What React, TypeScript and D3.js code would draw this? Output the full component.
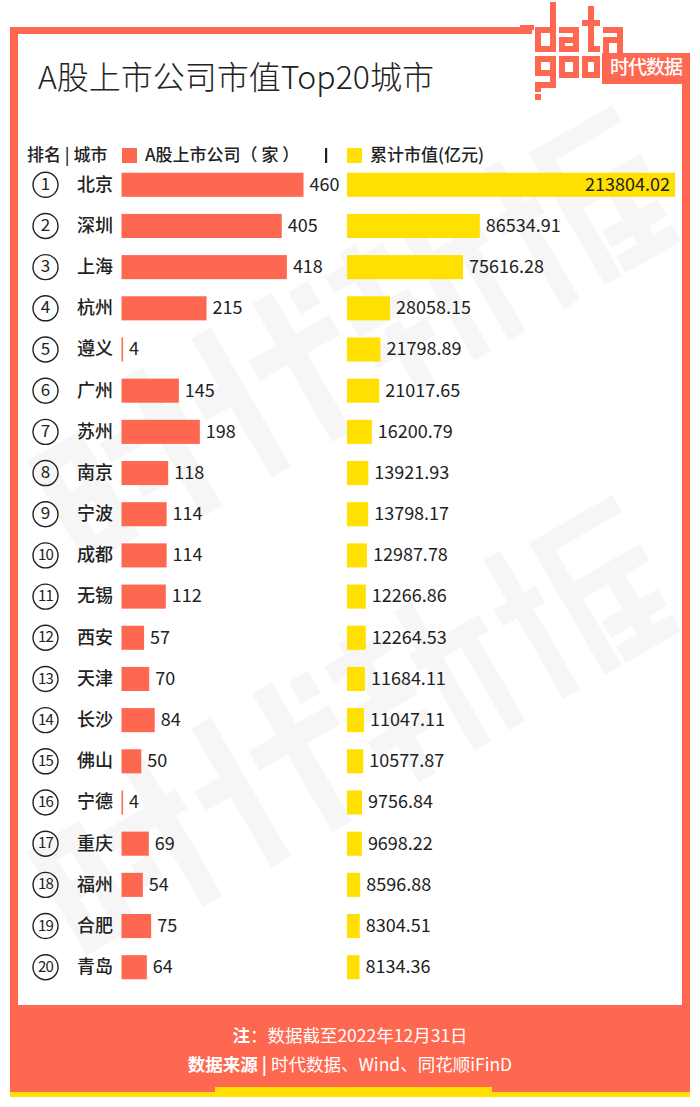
import React from 'react';
import * as d3 from 'd3';

const ranks = [1, 2, 3, 4, 5, 6, 7, 8, 9, 10, 11, 12, 13, 14, 15, 16, 17, 18, 19, 20];
const cities = ['北京', '深圳', '上海', '杭州', '遵义', '广州', '苏州', '南京', '宁波', '成都', '无锡', '西安', '天津', '长沙', '佛山', '宁德', '重庆', '福州', '合肥', '青岛'];
const companies = [460, 405, 418, 215, 4, 145, 198, 118, 114, 114, 112, 57, 70, 84, 50, 4, 69, 54, 75, 64];
const marketCaps = [213804.02, 86534.91, 75616.28, 28058.15, 21798.89, 21017.65, 16200.79, 13921.93, 13798.17, 12987.78, 12266.86, 12264.53, 11684.11, 11047.11, 10577.87, 9756.84, 9698.22, 8596.88, 8304.51, 8134.36];

const ORANGE = '#FF6850';
const YELLOW = '#FFE000';
const FONT = '"Noto Sans CJK SC", "Noto Sans", sans-serif';

const rows = ranks.map((r, i) => ({ rank: r, city: cities[i], n: companies[i], cap: marketCaps[i] }));

// blocky watermark glyphs (decorative, 100x100 cell)
const wmGlyphs: [number, number, number, number][][] = [
  [[0, 15, 14, 75], [0, 15, 38, 14], [24, 15, 14, 75], [0, 76, 38, 14], [0, 45, 38, 12], [45, 28, 55, 14], [78, 0, 14, 100], [52, 55, 14, 16]],
  [[18, 0, 14, 100], [0, 35, 22, 14], [42, 30, 58, 14], [62, 0, 14, 100], [85, 5, 14, 16]],
  [[0, 8, 42, 12], [15, 0, 12, 48], [0, 40, 42, 12], [0, 62, 42, 12], [15, 55, 12, 45], [55, 0, 12, 100], [50, 28, 50, 12], [80, 40, 12, 60]],
  [[0, 30, 30, 12], [10, 0, 12, 100], [40, 5, 60, 12], [40, 5, 12, 95], [52, 40, 48, 12], [70, 40, 12, 60], [55, 70, 40, 12], [55, 88, 40, 12]],
];

function Watermark({ cx, cy }: { cx: number; cy: number }) {
  return (
    <g transform={`translate(${cx},${cy}) rotate(-30) translate(-350,-80)`} fill="#000" opacity={0.03}>
      {wmGlyphs.map((g, i) => (
        <g key={i} transform={`translate(${i * 175},0) scale(1.6)`}>
          {g.map((r, j) => (
            <rect key={j} x={r[0]} y={r[1]} width={r[2]} height={r[3]} />
          ))}
        </g>
      ))}
    </g>
  );
}

export default function App() {
  const W = 700, H = 1107;
  const y = d3.scaleBand<number>().domain(ranks).range([164.5, 987.5]).paddingInner(0.415).paddingOuter(0.2);
  const xN = d3.scaleLinear().domain([0, 460]).range([0, 182]);
  const xC = d3.scaleLinear().domain([0, 213804.02]).range([0, 328]);
  const nX0 = 121.5;
  const cX0 = 347;
  const fmt = d3.format('.2f');
  const bh = y.bandwidth();

  const s = 6;
  const logoRects: [number, number, number, number][] = [
    // d
    [550, 2, s, 50], [535, 27, 21, s], [535, 27, s, 25], [535, 46, 21, s],
    // a
    [559, 27, 20, s], [573, 27, s, 25], [559, 37, 20, s], [559, 37, s, 15], [559, 46, 20, s],
    // t
    [588, 6, s, 46], [582, 20, 18, s], [588, 46, 12, s],
    // a
    [603, 27, 20, s], [617, 27, s, 26], [603, 37, 20, s], [603, 37, s, 16],
    // g (bottom row)
    [535, 56, 21, s], [535, 56, s, 20], [550, 56, s, 32], [535, 70, 21, s], [535, 82, 21, s], [535, 82, s, 10], [535, 94, s, 6],
    // d
    [559, 56, s, 22], [559, 72, 20, s], [573, 56, s, 22], [559, 56, 20, s],
    // d
    [582, 56, s, 22], [582, 72, 18, s], [594, 56, s, 22], [582, 56, 18, s],
    // dash
    [520, 25, 14, 5],
  ];

  return (
    <div style={{ position: 'absolute', left: 0, top: 0, width: W, height: H }}>
      <svg width={W} height={H} viewBox={`0 0 ${W} ${H}`} style={{ display: 'block', fontFamily: FONT }}>
        <rect x={0} y={0} width={W} height={H} fill="#fff" />
        <Watermark cx={358} cy={335} />
        <Watermark cx={358} cy={725} />
        {/* frame */}
        <rect x={10} y={27} width={522} height={7} fill={ORANGE} />
        <rect x={10} y={27} width={8} height={980} fill={ORANGE} />
        <rect x={682} y={53} width={8} height={954} fill={ORANGE} />
        {/* logo */}
        {logoRects.map((r, i) => (
          <rect key={i} x={r[0]} y={r[1]} width={r[2]} height={r[3]} fill={ORANGE} />
        ))}
        <rect x={602} y={53} width={88} height={31} fill={ORANGE} />
        <text x={646} y={69} textAnchor="middle" dominantBaseline="middle" fontSize={19} fill="#fff" fontWeight={500} letterSpacing={-1}>
          时代数据
        </text>
        {/* title */}
        <text x={38} y={89} fontSize={32} fill="#222" fontWeight={300}>
          A股上市公司市值Top20城市
        </text>
        {/* legend */}
        <text x={27} y={156} fontSize={17} fill="#222" fontWeight={500} dominantBaseline="middle">
          排名 | 城市
        </text>
        <rect x={122} y={148} width={15} height={15} fill={ORANGE} />
        <text x={145} y={156} fontSize={17} fill="#222" fontWeight={500} dominantBaseline="middle">
          A股上市公司（ 家 ）
        </text>
        <rect x={325} y={148} width={2.2} height={15} fill="#222" />
        <rect x={347} y={148} width={15} height={15} fill={YELLOW} />
        <text x={370} y={156} fontSize={17} fill="#222" fontWeight={500} dominantBaseline="middle">
          累计市值(亿元)
        </text>
        {/* rows */}
        {rows.map((d) => {
          const top = y(d.rank)!;
          const cy = top + bh / 2;
          const wN = xN(d.n);
          const wC = xC(d.cap);
          const inside = wC > 250;
          return (
            <g key={d.rank}>
              <circle cx={45.5} cy={cy} r={12.5} fill="none" stroke="#222" strokeWidth={1.4} />
              <text
                x={45.5}
                y={cy + 0.5}
                textAnchor="middle"
                dominantBaseline="middle"
                fontSize={d.rank >= 10 ? 15 : 17}
                letterSpacing={d.rank >= 10 ? -0.8 : 0}
                fill="#222"
              >
                {d.rank}
              </text>
              <text x={77} y={cy + 1} dominantBaseline="middle" fontSize={18} fontWeight={500} fill="#222">
                {d.city}
              </text>
              <rect x={nX0} y={top} width={Math.max(wN, 1.5)} height={bh} fill={ORANGE} />
              <text x={nX0 + wN + 6} y={cy + 1} dominantBaseline="middle" fontSize={18} fill="#222">
                {d.n}
              </text>
              <rect x={cX0} y={top} width={wC} height={bh} fill={YELLOW} />
              <text
                x={inside ? cX0 + wC - 5 : cX0 + wC + 6}
                y={cy + 1}
                textAnchor={inside ? 'end' : 'start'}
                dominantBaseline="middle"
                fontSize={18}
                fill="#222"
              >
                {fmt(d.cap)}
              </text>
            </g>
          );
        })}
        {/* footer */}
        <rect x={10} y={1005} width={680} height={88} fill={ORANGE} />
        <rect x={10} y={1092} width={680} height={5} fill={YELLOW} />
        <rect x={215} y={1087} width={277} height={10} fill={YELLOW} />
        <text x={350} y={1037} textAnchor="middle" dominantBaseline="middle" fontSize={17.5} fill="#fff">
          <tspan fontWeight={700}>注</tspan>
          <tspan>：数据截至2022年12月31日</tspan>
        </text>
        <text x={350} y={1066} textAnchor="middle" dominantBaseline="middle" fontSize={17.5} fill="#fff">
          <tspan fontWeight={700}>数据来源 | </tspan>
          <tspan>时代数据、Wind、同花顺iFinD</tspan>
        </text>
      </svg>
    </div>
  );
}
